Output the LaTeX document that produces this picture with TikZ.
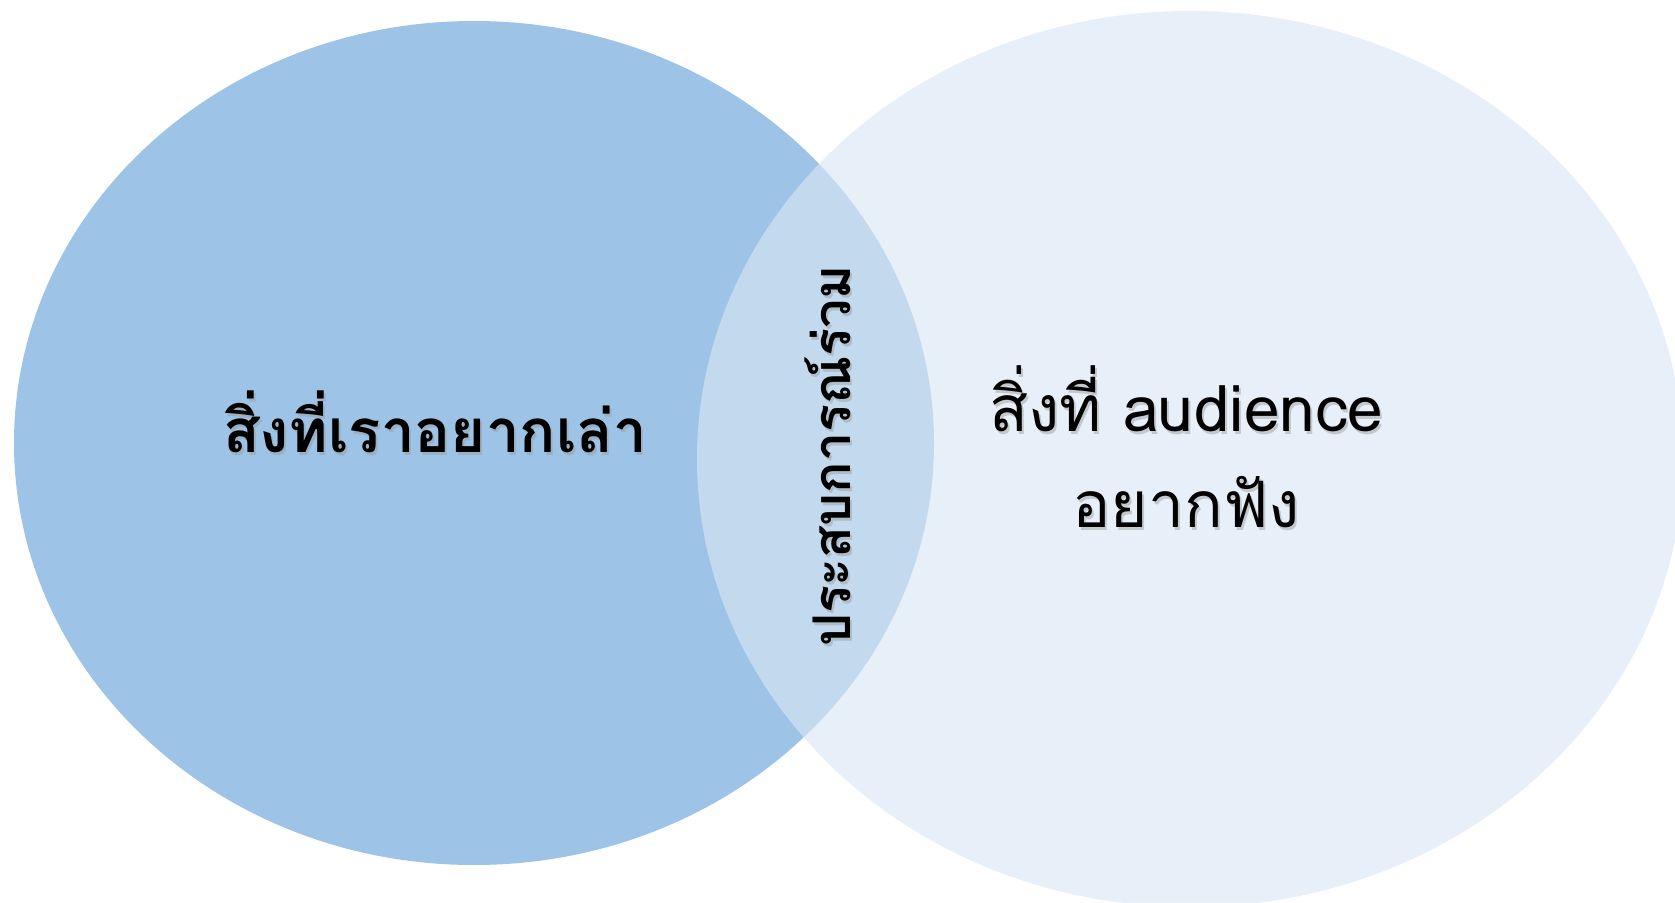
\documentclass[tikz,border=0pt]{standalone}
\usepackage{fontspec}
\newfontfamily\thaifont[Script=Thai]{Loma}
\usetikzlibrary{positioning}

\definecolor{talkblue}{HTML}{9DC3E6}
\definecolor{hearblue}{HTML}{DAE7F4}

\begin{document}
\begin{tikzpicture}[x=1pt, y=-1pt,
            vtext/.style={font=\thaifont\bfseries\fontsize{60}{98}\selectfont, inner sep=0pt, align=center},
            vshadow/.style={text=black!40, opacity=0.45}]
            \clip (0,0) rectangle (1675,902);
            \fill[white] (0,0) rectangle (1675,902);
            \fill[talkblue] (474,443) ellipse [x radius=460pt, y radius=422pt];
            \fill[hearblue, fill opacity=0.63] (1190,459) ellipse [x radius=493pt, y radius=448pt];

            \node[vtext, vshadow] (talks) at (437,425) {สิ่งที่เราอยากเล่า};
            \node[vtext] (talk) at (435,422) {สิ่งที่เราอยากเล่า};
            \node[vtext, vshadow, font=\thaifont\fontsize{64}{96}\selectfont] (hears) at (1188,450) {สิ่งที่ audience\\อยากฟัง};
            \node[vtext, font=\thaifont\fontsize{64}{96}\selectfont] (hear) at (1186,447) {สิ่งที่ audience\\อยากฟัง};
            \node[vtext, vshadow, rotate=90, font=\thaifont\bfseries\fontsize{52}{60}\selectfont] (shares) at (830,459) {ประสบการณ์ร่วม};
            \node[vtext, rotate=90, font=\thaifont\bfseries\fontsize{52}{60}\selectfont] (share) at (828,456) {ประสบการณ์ร่วม};
        \end{tikzpicture}
\end{document}
